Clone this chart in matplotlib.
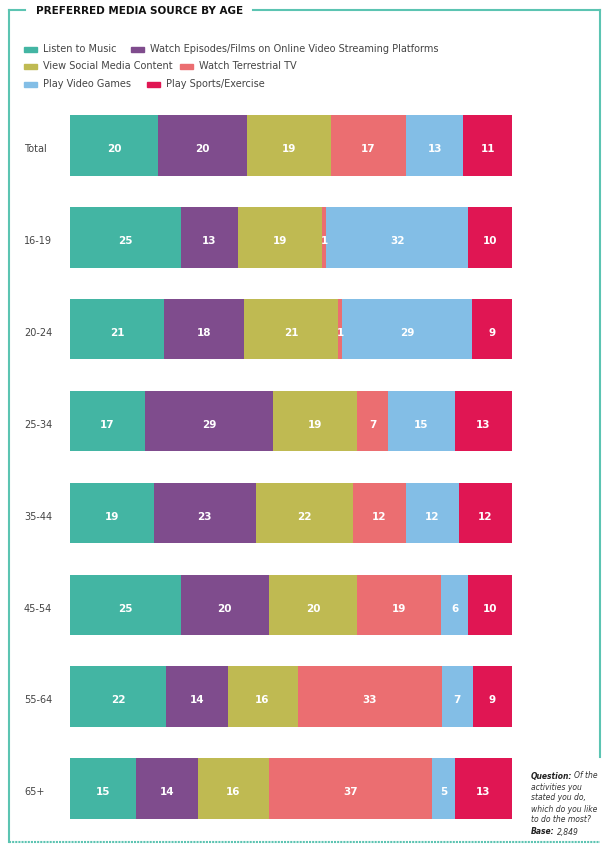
import matplotlib.pyplot as plt
from matplotlib.patches import Rectangle
from matplotlib.lines import Line2D
import numpy as np

ages = ['Total', '16-19', '20-24', '25-34', '35-44', '45-54', '55-64', '65+']
series = ['Listen to Music',
          'Watch Episodes/Films on Online Video Streaming Platforms',
          'View Social Media Content', 'Watch Terrestrial TV',
          'Play Video Games', 'Play Sports/Exercise']
music = [20, 25, 21, 17, 19, 25, 22, 15]
streaming = [20, 13, 18, 29, 23, 20, 14, 14]
social = [19, 19, 21, 19, 22, 20, 16, 16]
tv = [17, 1, 1, 7, 12, 19, 33, 37]
games = [13, 32, 29, 15, 12, 6, 7, 5]
sports = [11, 10, 9, 13, 12, 10, 9, 13]

colors = ['#43B5A3', '#7F4C8D', '#BFBA52', '#EB6E71', '#83BEE6', '#E01653']
frame = '#5CC4B2'

W, H = 609, 851
fig = plt.figure(figsize=(W / 100, H / 100), dpi=100)

def fx(px):
    return px / W

def fy(py):
    return 1 - py / H

ax = fig.add_axes([fx(70), fy(819), fx(512) - fx(70), fy(115) - fy(819)])
values = np.array([music, streaming, social, tv, games, sports], dtype=float)
totals = values.sum(axis=0)  # rounded shares don't always sum to 100
ypos = np.arange(len(ages))
text_dy = 0.04  # labels sit a touch below the bar centre
left = np.zeros(len(ages))
for vals, col in zip(values, colors):
    widths = vals / totals * 100
    ax.barh(ypos, widths, left=left, height=0.66, color=col)
    for y, l, w, v in zip(ypos, left, widths, vals):
        ax.text(l + w / 2, y + text_dy, f'{int(v)}', ha='center', va='center',
                color='white', fontsize=7.5, fontweight='bold')
    left += widths
ax.set_xlim(0, 100)
ax.set_ylim(len(ages) - 1 + 0.33, -0.33)
ax.axis('off')

for y, name in zip(ypos, ages):
    fig.text(fx(24), fy(115) - (y + 0.33 + text_dy) / 7.66 * (fy(115) - fy(819)), name,
             ha='left', va='center', fontsize=7, color='#444444')

# frame
fig.add_artist(Line2D([fx(9), fx(9)], [fy(10), fy(842)], color=frame, lw=1.5))
fig.add_artist(Line2D([fx(9), fx(600)], [fy(842), fy(842)], color=frame, lw=1.5, ls=(0, (1, 0.5))))
fig.add_artist(Line2D([fx(600), fx(600)], [fy(10), fy(757)], color=frame, lw=1.5))
fig.add_artist(Line2D([fx(9), fx(25)], [fy(10), fy(10)], color=frame, lw=1.5))
fig.add_artist(Line2D([fx(253), fx(600)], [fy(10), fy(10)], color=frame, lw=1.5))

fig.text(fx(36), fy(11), 'PREFERRED MEDIA SOURCE BY AGE', ha='left', va='center',
         fontsize=7.5, fontweight='bold', color='#111111')

# legend rows
legend_rows = [[(0, 24), (1, 131)], [(2, 24), (3, 180)], [(4, 24), (5, 147)]]
for row_y, row in zip([49, 66, 84], legend_rows):
    for idx, x0 in row:
        fig.add_artist(Rectangle((fx(x0), fy(row_y + 2.5)), fx(13), 5 / H,
                                 color=colors[idx], transform=fig.transFigure))
        fig.text(fx(x0 + 19), fy(row_y), series[idx], ha='left', va='center',
                 fontsize=7, color='#444444')

# question note
renderer = fig.canvas.get_renderer()
def mixed(x, y, bold, rest):
    t = fig.text(fx(x), fy(y), bold, ha='left', va='center', fontsize=5.5,
                 fontweight='bold', fontstyle='italic', color='#222222')
    bb = t.get_window_extent(renderer)
    fig.text(bb.x1 / W + fx(2), fy(y), rest, ha='left', va='center',
             fontsize=5.5, fontstyle='italic', color='#333333')

mixed(531, 776, 'Question:', 'Of the')
for i, line in enumerate(['activities you', 'stated you do,',
                          'which do you like', 'to do the most?']):
    fig.text(fx(531), fy(787 + 11 * i), line, ha='left', va='center',
             fontsize=5.5, fontstyle='italic', color='#333333')
mixed(531, 832, 'Base:', '2,849')

plt.savefig('out.png', dpi=100)
